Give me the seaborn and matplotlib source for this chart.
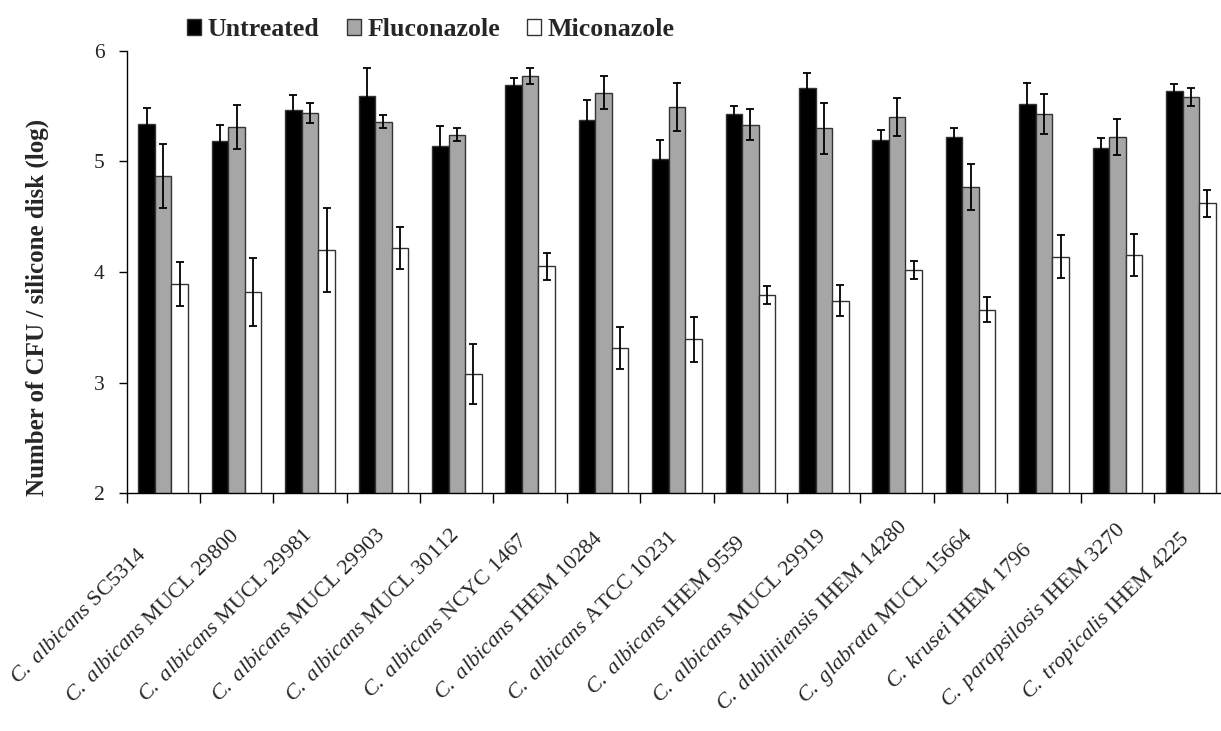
import numpy as np
import pandas as pd
import matplotlib
matplotlib.use("Agg")
import matplotlib.pyplot as plt
from matplotlib.patches import Patch
from matplotlib.transforms import ScaledTranslation
import seaborn as sns

# ---------------- data ----------------
species = ["C. albicans"] * 10 + ["C. dubliniensis", "C. glabrata", "C. krusei",
                                  "C. parapsilosis", "C. tropicalis"]
strains = ["SC5314", "MUCL 29800", "MUCL 29981", "MUCL 29903", "MUCL 30112",
           "NCYC 1467", "IHEM 10284", "ATCC 10231", "IHEM 9559", "MUCL 29919",
           "IHEM 14280", "MUCL 15664", "IHEM 1796", "IHEM 3270", "IHEM 4225"]
treatments = ["Untreated", "Fluconazole", "Miconazole"]

untreated = [5.34, 5.18, 5.46, 5.59, 5.14, 5.69, 5.37, 5.02, 5.43, 5.66, 5.19, 5.22, 5.52, 5.12, 5.64]
untreated_err = [0.14, 0.15, 0.14, 0.25, 0.18, 0.06, 0.18, 0.17, 0.07, 0.14, 0.09, 0.08, 0.19, 0.09, 0.06]
fluconazole = [4.87, 5.31, 5.44, 5.36, 5.24, 5.77, 5.62, 5.49, 5.33, 5.30, 5.40, 4.77, 5.43, 5.22, 5.58]
fluconazole_err = [0.29, 0.20, 0.09, 0.06, 0.06, 0.07, 0.15, 0.22, 0.14, 0.23, 0.17, 0.21, 0.18, 0.16, 0.08]
miconazole = [3.89, 3.82, 4.20, 4.22, 3.08, 4.05, 3.31, 3.39, 3.79, 3.74, 4.02, 3.66, 4.14, 4.15, 4.62]
miconazole_err = [0.20, 0.31, 0.38, 0.19, 0.27, 0.12, 0.19, 0.20, 0.08, 0.14, 0.08, 0.11, 0.19, 0.19, 0.12]

colors = {"Untreated": "#000000", "Fluconazole": "#A6A6A6", "Miconazole": "#FFFFFF"}

# ---------------- style ----------------
sns.set_style("ticks")
plt.rcParams["font.family"] = ["Liberation Serif", "DejaVu Serif"]
plt.rcParams["mathtext.fontset"] = "custom"
plt.rcParams["mathtext.it"] = "Liberation Serif:italic"
plt.rcParams["mathtext.rm"] = "Liberation Serif"

W, H, DPI = 1221, 731, 100
fig = plt.figure(figsize=(W / DPI, H / DPI), dpi=DPI)
ax_left, ax_right = 126.5, 126.5 + 73.4 * 15
ax_top, ax_bot = 50.7, 493.3
ax = fig.add_axes([ax_left / W, 1 - ax_bot / H, (ax_right - ax_left) / W, (ax_bot - ax_top) / H])

labels = [f"{sp}|{st}" for sp, st in zip(species, strains)]
df = pd.DataFrame({
    "label": labels * 3,
    "treatment": [t for t in treatments for _ in labels],
    "value": untreated + fluconazole + miconazole,
})
errs = {"Untreated": untreated_err, "Fluconazole": fluconazole_err, "Miconazole": miconazole_err}
vals = {"Untreated": untreated, "Fluconazole": fluconazole, "Miconazole": miconazole}

sns.barplot(data=df, x="label", y="value", hue="treatment", order=labels,
            hue_order=treatments, palette=colors, saturation=1, width=0.675,
            edgecolor="#333333", linewidth=1.0, errorbar=None, legend=False, ax=ax)

for cont, t in zip(ax.containers, treatments):
    xs = [p.get_x() + p.get_width() / 2 for p in cont.patches]
    ax.errorbar(xs, vals[t], yerr=errs[t], fmt="none", ecolor="black",
                elinewidth=1.3, capsize=2.6, capthick=1.3, zorder=5)

ax.set_ylim(2, 6)
ax.set_xlim(-0.5, 14.5)
ax.set_yticks([2, 3, 4, 5, 6])
ax.tick_params(axis="y", length=6, width=1, pad=10, labelsize=15.5, color="black")
ax.set_xticks(range(len(labels)))
ax.set_xticklabels([])
ax.tick_params(axis="x", which="major", length=0)
ax.set_xticks(np.arange(-0.5, len(labels), 1), minor=True)
ax.tick_params(axis="x", which="minor", length=7, width=1, direction="out", color="black")
for s in ["top", "right"]:
    ax.spines[s].set_visible(False)
for s in ["left", "bottom"]:
    ax.spines[s].set_color("black")
    ax.spines[s].set_linewidth(1)
ax.set_xlabel("")
ax.set_ylabel("")

offset = ScaledTranslation(-84 / DPI, -123 / DPI, fig.dpi_scale_trans)
for i, (sp, st) in enumerate(zip(species, strains)):
    sp_m = sp.replace(" ", r"\ ")
    txt = r"$\mathit{" + sp_m + r"}$ " + st
    ax.text(i, 0, txt, transform=ax.get_xaxis_transform() + offset,
            rotation=45, rotation_mode="anchor", ha="center", va="center",
            fontsize=16, clip_on=False)

fig.text(37 / W, 1 - 307 / H, "Number of CFU / silicone disk (log)", rotation=90,
         ha="center", va="center", fontsize=18, fontweight="bold")

handles = [Patch(facecolor=colors[t], edgecolor="#333333", linewidth=1) for t in treatments]
fig.legend(handles, treatments, loc="upper left", bbox_to_anchor=(187 / W, 1 - 18 / H),
           ncol=3, frameon=False, prop={"weight": "bold", "size": 18.6},
           handlelength=0.55, handleheight=0.55, handletextpad=0.25,
           columnspacing=1.05, borderpad=0, borderaxespad=0)

fig.savefig("out.png", dpi=DPI)
